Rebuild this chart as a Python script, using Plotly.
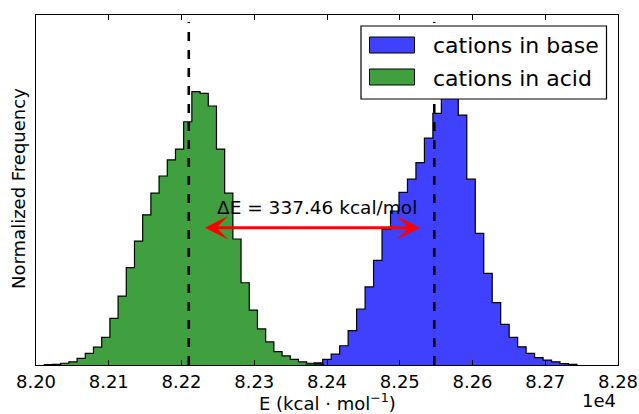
import plotly.graph_objects as go

# ---- data ----
series_names = ["cations in base", "cations in acid"]
# histogram bins (kcal/mol): first left edge and bin width
base_start, base_width = 82370.8, 11.65
acid_start, acid_width = 82011.4, 11.27
base_heights = [0.00002, 0.00006, 0.00016, 0.00031, 0.00055, 0.00098, 0.00160, 0.00223,
                0.00299, 0.00388, 0.00440, 0.00493, 0.00531, 0.00578, 0.00648, 0.00719,
                0.00806, 0.00789, 0.00714, 0.00531, 0.00376, 0.00262, 0.00178, 0.00116,
                0.00079, 0.00052, 0.00033, 0.00021, 0.00014, 0.00009, 0.00004, 0.00002]
acid_heights = [0.00001, 0.00002, 0.00005, 0.00009, 0.00019, 0.00033, 0.00051, 0.00079,
                0.00133, 0.00197, 0.00278, 0.00354, 0.00429, 0.00491, 0.00540, 0.00586,
                0.00617, 0.00695, 0.00781, 0.00776, 0.00740, 0.00617, 0.00491, 0.00360,
                0.00235, 0.00157, 0.00103, 0.00066, 0.00038, 0.00026, 0.00016, 0.00009,
                0.00005, 0.00003]
means = [82547.46, 82210.00]          # base, acid
delta_label = "ΔE = 337.46 kcal/mol"
label_x = 82386.0
arrow_level = 0.00392
arrow_ends = [82230.0, 82528.0]
tick_vals = [82000, 82100, 82200, 82300, 82400, 82500, 82600, 82700, 82800]
tick_text = ["8.20", "8.21", "8.22", "8.23", "8.24", "8.25", "8.26", "8.27", "8.28"]
fill_colors = ["rgba(0,0,255,0.75)", "rgba(0,128,0,0.75)"]

FONT = "DejaVu Sans"


def step_xy(start, width, heights):
    xs = [start]
    ys = [0]
    for i, h in enumerate(heights):
        xs.append(start + i * width)
        ys.append(h)
    xs.append(start + len(heights) * width)
    ys.append(0)
    return xs, ys


fig = go.Figure()
for name, (s, w, h), col in zip(series_names,
                                [(base_start, base_width, base_heights),
                                 (acid_start, acid_width, acid_heights)],
                                fill_colors):
    xs, ys = step_xy(s, w, h)
    fig.add_trace(go.Scatter(x=xs, y=ys, mode="lines", line=dict(shape="hv", color="black", width=1.2),
                             fill="tozeroy", fillcolor=col, name=name, showlegend=False,
                             hoverinfo="skip"))

# mean lines
for m in means:
    fig.add_shape(type="line", xref="x", yref="paper", x0=m, x1=m, y0=0, y1=0.98,
                  line=dict(color="black", width=2.6, dash="9px,9px"))

# double arrow
fig.add_annotation(x=arrow_ends[1], y=arrow_level, ax=arrow_ends[0], ay=arrow_level,
                   xref="x", yref="y", axref="x", ayref="y", text="", showarrow=True,
                   arrowhead=3, startarrowhead=3, arrowside="end+start", arrowsize=1.3,
                   startarrowsize=1.3, arrowwidth=3, arrowcolor="#ff0000")
fig.add_annotation(x=label_x, y=arrow_level, xref="x", yref="y",
                   text=delta_label, showarrow=False, yanchor="bottom", yshift=8,
                   font=dict(family=FONT, size=18.5, color="black"))

# custom legend (matplotlib-like)
W, H = 639, 414
L, R, T, B = 36, 21, 15, 49
pw, ph = W - L - R, H - T - B


def px(x):
    return (x - L) / pw


def py(y):
    return (H - B - y) / ph


fig.add_shape(type="rect", xref="paper", yref="paper", x0=px(361), x1=px(606.5), y0=py(99), y1=py(26),
              line=dict(color="black", width=1.2), fillcolor="white", layer="above")
for i, (name, col) in enumerate(zip(series_names, fill_colors)):
    cy = 45 + i * 32
    fig.add_shape(type="rect", xref="paper", yref="paper", x0=px(369.5), x1=px(414.5),
                  y0=py(cy + 8), y1=py(cy - 8), line=dict(color="black", width=1),
                  fillcolor=col, layer="above")
    fig.add_annotation(xref="paper", yref="paper", x=px(431), y=py(cy + 1), text=name,
                       showarrow=False, xanchor="left", yanchor="middle",
                       font=dict(family=FONT, size=22, color="black"))

# axis labels
fig.add_annotation(xref="paper", yref="paper", x=0.5, y=py(402), text="E (kcal · mol<sup>−1</sup>)",
                   showarrow=False, xanchor="center", yanchor="middle",
                   font=dict(family=FONT, size=18, color="black"))
fig.add_annotation(xref="paper", yref="paper", x=1.0, y=py(401), text="1e4",
                   showarrow=False, xanchor="right", yanchor="middle",
                   font=dict(family=FONT, size=18, color="black"))
fig.add_annotation(xref="paper", yref="paper", x=px(18.5), y=py(188.5), text="Normalized Frequency",
                   showarrow=False, textangle=-90, xanchor="center", yanchor="middle",
                   font=dict(family=FONT, size=18, color="black"))

fig.update_layout(
    width=W, height=H, margin=dict(l=L, r=R, t=T, b=B),
    paper_bgcolor="white", plot_bgcolor="white",
    font=dict(family=FONT, size=18, color="black"),
    xaxis=dict(range=[82000, 82800], tickvals=tick_vals, ticktext=tick_text, ticks="inside",
               ticklen=5, tickwidth=1, tickcolor="black", showline=True, linecolor="black",
               linewidth=1.3, mirror="ticks", showgrid=False, zeroline=False, automargin=False,
               tickfont=dict(family=FONT, size=18, color="black")),
    yaxis=dict(range=[0, 0.01], showticklabels=False, ticks="", showline=True, linecolor="black",
               linewidth=1.3, mirror=True, showgrid=False, zeroline=False, automargin=False),
)

fig.write_html("out.html")
